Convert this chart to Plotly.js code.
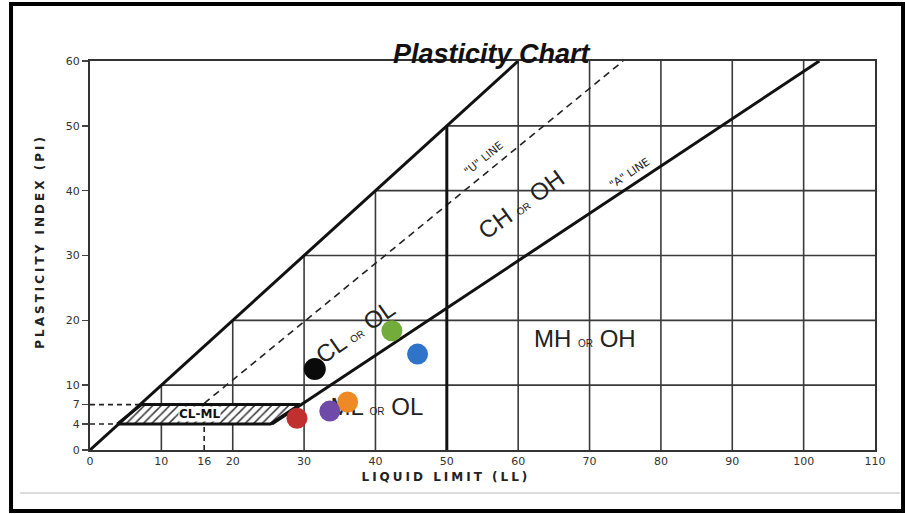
<!DOCTYPE html>
<html>
<head>
<meta charset="utf-8">
<script src="https://cdn.plot.ly/plotly-3.0.1.min.js"></script>
<style>
html,body{margin:0;padding:0;background:#fff;}
#chart{width:905px;height:514px;}
</style>
</head>
<body>
<div id="chart"></div>
<script>
// ---- data ----
const sampleLL = [31.5, 42.3, 45.9, 36.1, 33.6, 29.0];
const samplePI = [12.5, 18.4, 14.8, 7.4, 6.0, 4.9];
const sampleColors = ['#0a0a0a', '#72ad3c', '#2f74c8', '#ee8a25', '#6f4aa8', '#c0302e'];

const upperLineLL = [0, 60];
const upperLinePI = [0, 60];
const aLineLL = [25.5, 102.2];
const aLinePI = [4, 60];
const uLineLL = [16, 74.7];
const uLinePI = [7.2, 60];
const dividerLL = [50, 50];
const dividerPI = [0, 50];
const clmlLL = [3.8, 25.3, 29.4, 7.2, 3.8];
const clmlPI = [4, 4, 7, 7, 4];

const gridValuesLL = [10, 20, 30, 40, 50, 60, 70, 80, 90, 100];
const gridValuesPI = [10, 20, 30, 40, 50];
const xTicks = [0, 10, 16, 20, 30, 40, 50, 60, 70, 80, 90, 100, 110];
const yTicks = [0, 4, 7, 10, 20, 30, 40, 50, 60];
const xMax = 110, yMax = 60;

// ---- grid built from the tick values ----
const gx = [], gy = [];
gridValuesLL.forEach(v => { gx.push(v, v, null); gy.push(0, Math.min(v, yMax), null); });
gridValuesPI.forEach(v => { gx.push(v, xMax, null); gy.push(v, v, null); });

const thin = {color: '#3a3a3a', width: 1.6};
const thick = {color: '#111', width: 3};

const traces = [
  {x: gx, y: gy, mode: 'lines', line: thin, hoverinfo: 'skip'},
  {x: clmlLL, y: clmlPI, mode: 'lines', fill: 'toself', fillcolor: 'rgba(0,0,0,0)',
   fillpattern: {shape: '/', fgcolor: '#333', bgcolor: '#fff', size: 6, solidity: 0.25},
   line: {color: '#111', width: 3}, hoverinfo: 'skip'},
  {x: [0, 7.2, null, 0, 3.8, null, 16, 16], y: [7, 7, null, 4, 4, null, 0, 4], mode: 'lines',
   line: {color: '#222', width: 1.6, dash: '5px,4px'}, hoverinfo: 'skip'},
  {x: uLineLL, y: uLinePI, mode: 'lines', line: {color: '#222', width: 1.6, dash: '7px,5px'}, hoverinfo: 'skip'},
  {x: upperLineLL, y: upperLinePI, mode: 'lines', line: thick, hoverinfo: 'skip'},
  {x: aLineLL, y: aLinePI, mode: 'lines', line: thick, hoverinfo: 'skip'},
  {x: dividerLL, y: dividerPI, mode: 'lines', line: thick, hoverinfo: 'skip'},
  {x: [40.2], y: [6.3], mode: 'text', text: ['ML <span style="font-size:10px">OR</span> OL'],
   textfont: {family: 'Liberation Sans, Arial, sans-serif', size: 24, color: '#222'}, hoverinfo: 'skip'},
  {x: sampleLL, y: samplePI, mode: 'markers',
   marker: {color: sampleColors, size: [22, 21, 21, 21, 21, 21], opacity: 1, line: {width: 0}}, hoverinfo: 'skip'}
];

const textFont = {family: 'Liberation Sans, Arial, sans-serif', size: 24, color: '#222'};
const annotations = [
  {x: 0.512, y: 1.062, xref: 'paper', yref: 'paper', showarrow: false,
   text: 'Plasticity Chart',
   font: {family: 'Liberation Sans Narrow, Arial Narrow, sans-serif', size: 27, color: '#111', weight: 'bold', style: 'italic'}},
  {x: 0.4535, y: -0.0925, xref: 'paper', yref: 'paper', showarrow: false,
   text: 'LIQUID LIMIT (LL)',
   font: {family: 'DejaVu Sans, sans-serif', size: 12, color: '#222', weight: 'bold'}},
  {x: -0.075, y: 0.537, xref: 'paper', yref: 'paper', showarrow: false, textangle: -90,
   text: 'PLASTICITY INDEX (PI)',
   font: {family: 'DejaVu Sans, sans-serif', size: 12, color: '#222', weight: 'bold'}},
  {x: 37.2, y: 18.3, showarrow: false, textangle: -35,
   text: 'CL <span style="font-size:10px">OR</span> OL', font: textFont},
  {x: 60.4, y: 37.8, showarrow: false, textangle: -36,
   text: 'CH <span style="font-size:10px">OR</span> OH', font: textFont},
  {x: 69.3, y: 17.2, showarrow: false,
   text: 'MH <span style="font-size:10px">OR</span> OH', font: textFont},
  {x: 55.2, y: 44.9, showarrow: false, textangle: -39,
   text: '"U" LINE', font: {family: 'DejaVu Sans, sans-serif', size: 11, color: '#222'}},
  {x: 75.6, y: 42.6, showarrow: false, textangle: -34,
   text: '"A" LINE', font: {family: 'DejaVu Sans, sans-serif', size: 11, color: '#222'}},
  {x: 15.3, y: 5.5, showarrow: false, text: 'CL-ML', bgcolor: '#fff', borderpad: 0,
   font: {family: 'DejaVu Sans, sans-serif', size: 12, color: '#111', weight: 'bold'}}
];

const layout = {
  width: 905, height: 514,
  margin: {l: 90, r: 30, t: 61, b: 64},
  paper_bgcolor: '#fff', plot_bgcolor: '#fff',
  showlegend: false,
  xaxis: {range: [0, xMax], tickvals: xTicks, ticktext: xTicks.map(String), showgrid: false, zeroline: false,
          showline: true, mirror: true, linecolor: '#333', linewidth: 2, ticks: '',
          tickfont: {family: 'DejaVu Sans, sans-serif', size: 11, color: '#333'}, fixedrange: true},
  yaxis: {range: [0, yMax], tickvals: yTicks, ticktext: yTicks.map(String), showgrid: false, zeroline: false,
          showline: true, mirror: true, linecolor: '#333', linewidth: 2, ticks: 'outside', ticklen: 6,
          tickcolor: '#444', tickwidth: 1.5,
          tickfont: {family: 'DejaVu Sans, sans-serif', size: 11, color: '#333'}, fixedrange: true},
  annotations: annotations,
  shapes: [
    {type: 'rect', xref: 'paper', yref: 'paper', x0: -0.1006, x1: 1.0357, y0: -0.1568, y1: 1.1465,
     line: {color: '#000', width: 4}, layer: 'above'},
    {type: 'line', xref: 'paper', yref: 'paper', x0: -0.089, x1: 1.032, y0: -0.1105, y1: -0.1105,
     line: {color: '#d0d0d0', width: 1.5}}
  ]
};

Plotly.newPlot('chart', traces, layout, {staticPlot: true}).then(() => {
  document.querySelectorAll('.annotation-text').forEach(t => {
    const s = t.textContent;
    if (s === 'LIQUID LIMIT (LL)' || s === 'PLASTICITY INDEX (PI)') {
      t.style.letterSpacing = '3px';
    }
  });
});
</script>
</body>
</html>
